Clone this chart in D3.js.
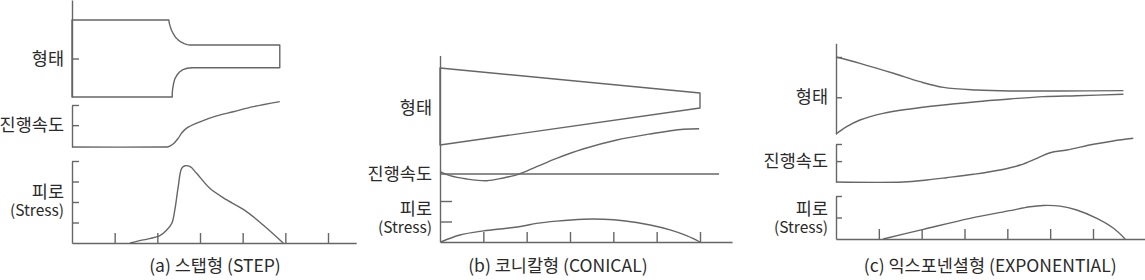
<!DOCTYPE html>
<html>
<head>
<meta charset="utf-8">
<script src="https://cdn.jsdelivr.net/npm/d3@7"></script>
<style>
  body { margin: 0; background: #fff; }
  svg { display: block; font-family: "Noto Sans CJK KR", "Noto Sans", sans-serif; }
  .curve { fill: none; stroke: #666; stroke-width: 1.4; stroke-linejoin: round; }
  .axis path, .axis line { stroke: #666; stroke-width: 1.4; }
  .lbl { fill: #2a2a2a; font-size: 17.5px; text-anchor: end; }
  .sub { fill: #2a2a2a; font-size: 15.5px; text-anchor: end; }
  .cap { fill: #2a2a2a; font-size: 17.5px; text-anchor: middle; }
</style>
</head>
<body>
<svg id="chart" width="1145" height="280"></svg>
<script>
// ---- data (x in stroke-tick units 0..6, y in each band's own units) ----
const captions = ['(a) 스탭형 (STEP)', '(b) 코니칼형 (CONICAL)', '(c) 익스포넨셜형 (EXPONENTIAL)'];
const rowLabels = ['형태', '진행속도', '피로'];
const stressSub = '(Stress)';
const xTicks = [1, 2, 3, 4, 5, 6];

// (a) step
const stepShape = [[0,100],[2.27,100],[2.28,96],[2.30,92],[2.33,87],[2.37,82.5],[2.42,78],[2.48,74.5],[2.55,71.5],[2.63,69.3],[2.70,68],[2.77,67.5],
  [4.87,67.5],[4.87,38],[2.81,38],[2.70,37.3],[2.60,35.5],[2.52,32.5],[2.46,28.5],[2.41,23.5],[2.38,17.5],[2.36,11],[2.35,5],[2.35,0],[0,0]];
const stepSpeed = [[0,0],[2.1,0],[2.26,0.7],[2.37,7],[2.49,21],[2.57,33],[2.68,44.5],[3.0,60],[3.39,74],[3.78,84],[4.25,96],[4.87,108]];
const stepStress = [[1.36,0],[1.67,0.15],[2.06,0.36],[2.22,0.63],[2.34,0.96],[2.41,1.61],[2.49,2.75],[2.57,3.64],[2.65,3.77],[2.77,3.72],
  [2.92,3.4],[3.23,2.67],[3.63,2.1],[4.09,1.53],[4.48,0.88],[4.95,0]];

// (b) conical
const conShape = [[0,100],[6,67.5],[6,48],[0,0]];
const conBase = [[0,0],[6.44,0]];
const conSpeed = [[0,5],[0.23,-3.7],[0.62,-10.9],[1.08,-14.6],[1.46,-8.7],[1.81,-0.7],[2.23,15.9],[2.69,34],[3.3,54.3],[4.08,73.9],[4.85,87],[5.62,97.2],[5.98,98.5]];
const conStress = [[0.02,0],[0.46,0.34],[1.0,0.54],[1.54,0.67],[1.92,0.78],[2.23,0.91],[2.69,1.02],[3.31,1.11],[3.77,1.11],[4.23,1.04],[4.85,0.83],[5.31,0.59],[5.69,0.31],[6.0,0]];

// (c) exponential
const expShapeTop = [[0,100],[0.56,91.7],[1.34,78.6],[1.96,67.5],[2.51,60],[3.28,56.6],[4.06,55.3],[5.23,55.3],[6.71,55.7]];
const expShapeBottom = [[0,-1.3],[0.25,8.3],[0.56,17.1],[1.1,25.9],[1.73,31.6],[2.51,36.8],[3.28,41.2],[4.06,44.7],[4.84,47.8],[5.62,49.1],[6.71,50.9]];
const expSpeed = [[0,0],[1.57,0],[2.12,5.3],[2.58,11.3],[3.21,20.3],[3.83,31.6],[4.30,44.7],[4.69,62.4],[5.0,77],[5.39,84.2],[6.01,99.2],[6.47,108],[6.94,115]];
const expStress = [[1.10,0],[2.04,0.45],[3.13,0.96],[4.06,1.32],[4.53,1.50],[4.84,1.56],[5.23,1.53],[5.62,1.35],[6.09,0.96],[6.48,0.50],[6.75,0]];

// ---- layout ----
const panels = [
  { xr: [72, 328], xEnd: 6.66, capX: 3.35, tickLen: 7,
    shape:  { dom: [0,100], rng: [97,20],  ext: [0,126], ticks: [50], lab: 50, lines: [[stepShape, true]] },
    speed:  { dom: [0,100], rng: [147,105], ext: [0,100], ticks: [52,100], lab: 52, lines: [[stepSpeed]] },
    stress: { dom: [0,4],   rng: [243,161], ext: [0,4],   ticks: [1,2,3,4], lab: 2.44, lines: [[stepStress]] } },
  { xr: [440, 700], xEnd: 6.74, capX: 2.72, tickLen: 12,
    shape:  { dom: [0,100], rng: [145,68],  ext: null, ticks: [], lab: 48, lines: [[conShape, true, d3.curveLinear]] },
    speed:  { dom: [0,100], rng: [174,128], ext: null, ticks: [], lab: 0, lines: [[conBase, false, d3.curveLinear], [conSpeed]] },
    stress: { dom: [0,2],   rng: [242,201], ext: [0,9.1], ticks: [1,2], lab: 1.56, lines: [[conStress]] } },
  { xr: [836, 1093], xEnd: 7.3, capX: 3.6, tickLen: 6,
    shape:  { dom: [0,100], rng: [133,57],  ext: [-1.3,118], ticks: [47,100], lab: 47, lines: [[expShapeTop], [expShapeBottom]] },
    speed:  { dom: [0,100], rng: [182,144], ext: [0,100], ticks: [55,100], lab: 55, lines: [[expSpeed]] },
    stress: { dom: [0,2],   rng: [239,196], ext: [0,2],   ticks: [1,2], lab: 1.35, lines: [[expStress]] } }
];

const svg = d3.select('#chart');

panels.forEach((p, pi) => {
  const g = svg.append('g');
  const x = d3.scaleLinear().domain([0, 6]).range(p.xr);

  ['shape', 'speed', 'stress'].forEach((key, ri) => {
    const b = p[key];
    const y = d3.scaleLinear().domain(b.dom).range(b.rng);

    if (b.ext) {
      const ay = y.copy().domain(b.ext).range(b.ext.map(y));
      g.append('g')
        .attr('class', 'axis')
        .attr('transform', `translate(${x(0)},0)`)
        .call(d3.axisLeft(ay).tickValues(b.ticks).tickSizeInner(-p.tickLen).tickSizeOuter(0).tickFormat(''))
        .call(a => a.select('.domain').attr('stroke', '#666'));
    }

    b.lines.forEach(([pts, closed, curve]) => {
      const line = d3.line()
        .x(d => x(d[0]))
        .y(d => y(d[1]))
        .curve(curve || (closed ? d3.curveLinear : d3.curveCatmullRom.alpha(0.5)));
      g.append('path')
        .attr('class', 'curve')
        .attr('d', line(pts) + (closed ? 'Z' : ''));
    });

    const lx = x(0) - 8;
    g.append('text')
      .attr('class', 'lbl')
      .attr('x', lx)
      .attr('y', y(b.lab) - (key === 'stress' ? 1 : 0))
      .attr('dy', '0.35em')
      .text(rowLabels[ri]);
    if (key === 'stress') {
      g.append('text')
        .attr('class', 'sub')
        .attr('x', lx)
        .attr('y', y(b.lab) + 18)
        .attr('dy', '0.35em')
        .text(stressSub);
    }

    if (key === 'stress') {
      const ax = x.copy().domain([0, p.xEnd]).range([x(0), x(p.xEnd)]);
      g.append('g')
        .attr('class', 'axis')
        .attr('transform', `translate(0,${y(0)})`)
        .call(d3.axisBottom(ax).tickValues(xTicks).tickSizeInner(-10).tickSizeOuter(0).tickFormat(''))
        .call(a => a.select('.domain').attr('stroke', '#666'));
    }
  });

  g.append('text')
    .attr('class', 'cap')
    .attr('x', x(p.capX))
    .attr('y', 266)
    .attr('dy', '0.35em')
    .text(captions[pi]);
});
</script>
</body>
</html>
